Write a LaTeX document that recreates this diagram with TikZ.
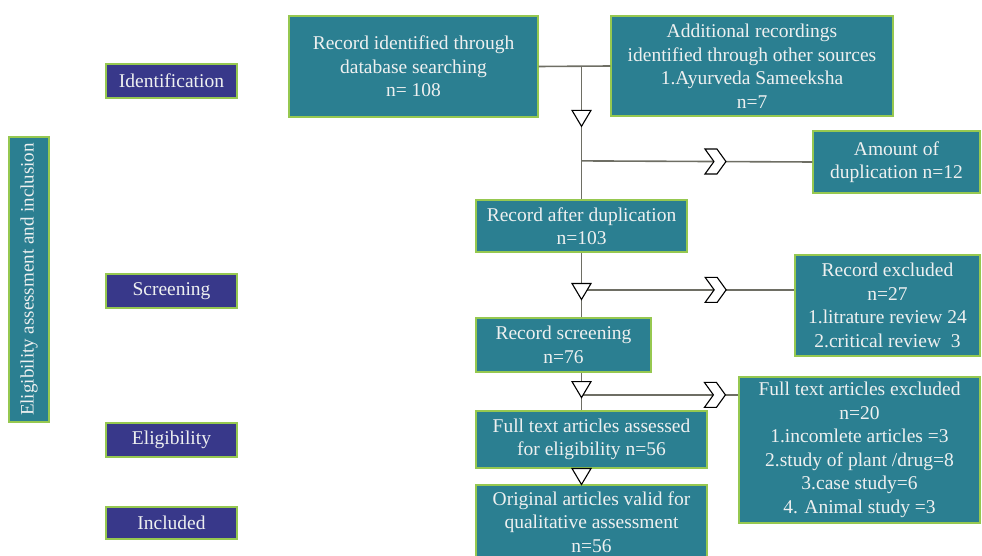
\documentclass[tikz,border=0pt]{standalone}
\usepackage{fontspec}
\setmainfont{Liberation Serif}
\definecolor{boxfill}{RGB}{43,127,145}
\definecolor{phasefill}{RGB}{56,56,138}
\definecolor{boxedge}{RGB}{150,200,80}
\definecolor{boxtext}{RGB}{238,240,240}
\definecolor{linegray}{RGB}{110,110,100}
\tikzset{
  box/.style={draw=boxedge,fill=boxfill,text=boxtext,line width=1.1pt,align=center,inner sep=0pt,
    font=\fontsize{19.5}{23.5}\selectfont},
  phase/.style={box,fill=phasefill},
  flow/.style={draw=linegray,line width=1.6pt},
  tri/.pic={\filldraw[fill=white,draw=black,line width=1.1pt] (-9.5,-8)--(9.5,-8)--(0,8)--cycle;},
  chev/.pic={\filldraw[fill=white,draw=black,line width=1.1pt,line join=miter]
    (-10.5,-12.5)--(1.5,-12.5)--(10.5,0)--(1.5,12.5)--(-10.5,12.5)--(-1.5,0)--cycle;}
}
\begin{document}
\begin{tikzpicture}[x=1pt,y=-1pt]
\useasboundingbox (0,0) rectangle (982,556);
\clip (0,0) rectangle (982,556);
% phase labels
\node[box,rotate=90,minimum width=285,minimum height=40,font=\fontsize{19}{23}\selectfont] (side) at (29,279.5) {Eligibility assessment and inclusion};
\node[phase,minimum width=131,minimum height=34] (ident) at (171.5,81) {Identification};
\node[phase,minimum width=131,minimum height=34] (screen) at (171.5,291) {Screening};
\node[phase,minimum width=131,minimum height=34] (elig) at (171.5,440) {Eligibility};
\node[phase,minimum width=131,minimum height=32] (incl) at (171.5,523) {Included};
% boxes
\node[box,minimum width=249,minimum height=101] (rec) at (413.5,66.5) {Record identified through\\database searching\\n= 108};
\node[box,minimum width=282,minimum height=100] (add) at (752,66) {Additional recordings\\identified through other sources\\1.Ayurveda Sameeksha\\n=7};
\node[box,minimum width=167,minimum height=62] (amt) at (896.5,162) {Amount of\\duplication n=12};
\node[box,minimum width=211,minimum height=52] (dup) at (581.5,226) {Record after duplication\\n=103};
\node[box,minimum width=185,minimum height=101] (exc) at (887.5,305.5) {Record excluded\\n=27\\1.litrature review 24\\2.critical review~~3};
\node[box,minimum width=175,minimum height=54] (scr) at (563.5,345) {Record screening\\n=76};
\node[box,minimum width=241,minimum height=146] (fte) at (859.5,450) {Full text articles excluded\\n=20\\1.incomlete articles =3\\2.study of plant /drug=8\\3.case study=6\\4. Animal study =3};
\node[box,minimum width=231,minimum height=57] (fta) at (591.5,439.5) {Full text articles assessed\\for eligibility n=56};
\node[box,minimum width=231,minimum height=74] (orig) at (591.5,522) {Original articles valid for\\qualitative assessment\\n=56};
% connectors
\coordinate (j1) at (dup.north |- rec.east);
\draw[flow] (rec.east)--(add.west);
\draw[flow] (j1)--coordinate[pos=0.39] (t1) coordinate[pos=0.71] (j2) (dup.north);
\draw[flow] (j2)--coordinate[pos=0.58] (c1) (amt.west);
\draw[flow] (dup.south)--coordinate[pos=0.6] (t2) coordinate[pos=0.575] (j3) (dup.south |- scr.north);
\draw[flow] (j3)--coordinate[pos=0.63] (c2) (j3 -| exc.west);
\draw[flow] (dup.south |- scr.south)--coordinate[pos=0.45] (t3) coordinate[pos=0.59] (j4) (dup.south |- fta.north);
\draw[flow] (j4)--coordinate[pos=0.85] (c3) (j4 -| fte.west);
\draw[flow] (dup.south |- fta.south)--coordinate[pos=0.5] (t4) (dup.south |- orig.north);
\pic at (t1) {tri};\pic at (t2) {tri};\pic at (t3) {tri};\pic at (t4) {tri};
\pic at (c1) {chev};\pic at (c2) {chev};\pic at (c3) {chev};
\end{tikzpicture}
\end{document}
